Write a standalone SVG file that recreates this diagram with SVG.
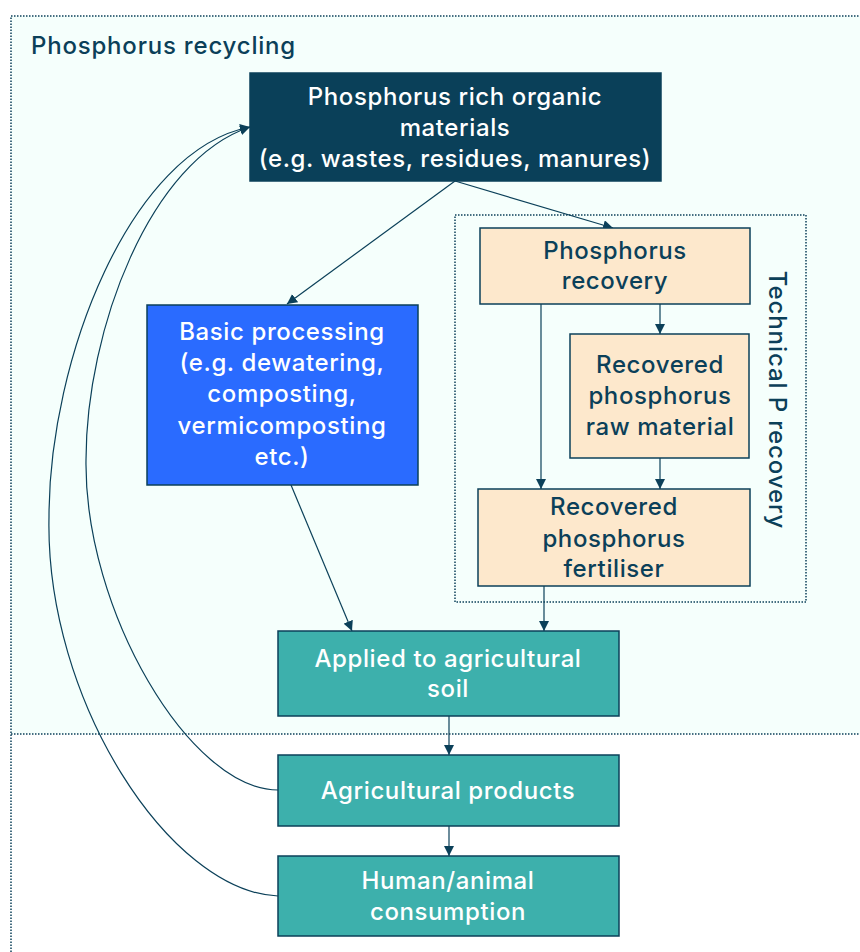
<svg xmlns="http://www.w3.org/2000/svg" width="860" height="952" viewBox="0 0 860 952">
<style>
.t{font-family:Inter,"Noto Sans","Liberation Sans",sans-serif;font-weight:500;font-size:24px;letter-spacing:0.6px;text-anchor:middle}
.w{fill:#ffffff}
.d{fill:#0b4059}
.box{stroke:#0b4059;stroke-width:1.5}
.dot{fill:none;stroke:#0b4059;stroke-width:1.5;stroke-dasharray:1.5 1.5}
.c{fill:none;stroke:#0b4059;stroke-width:1.2}
</style>
<defs>
<marker id="ar" markerUnits="userSpaceOnUse" markerWidth="10" markerHeight="10" refX="10" refY="5" orient="auto">
<path d="M0,0 L10,5 L0,10 z" fill="#0b4059"/>
</marker>
</defs>
<rect width="860" height="952" fill="#ffffff"/>
<g id="region-recycling">
<rect x="11" y="16" width="860" height="718" fill="#f5fffc"/>
<path class="dot" d="M11,952 L11,16 L860,16"/>
<path class="dot" d="M11,734 L860,734"/>
<text x="31" y="54" class="t d" style="text-anchor:start;letter-spacing:0.8px">Phosphorus recycling</text>
</g>
<g id="region-technical">
<rect x="455" y="215" width="351" height="387" fill="#fffcf7" class="dot"/>
<text transform="translate(769,400) rotate(90)" class="t d" style="letter-spacing:0.9px">Technical P recovery</text>
</g>
<g id="connectors">
<path class="c" marker-end="url(#ar)" d="M455,181 L287,304"/>
<path class="c" marker-end="url(#ar)" d="M455,181 L613,228"/>
<path class="c" marker-end="url(#ar)" d="M660,304 L660,334"/>
<path class="c" marker-end="url(#ar)" d="M541,304 L541,489"/>
<path class="c" marker-end="url(#ar)" d="M660,458 L660,489"/>
<path class="c" marker-end="url(#ar)" d="M291,485 L352,631"/>
<path class="c" marker-end="url(#ar)" d="M544,586 L544,631"/>
<path class="c" marker-end="url(#ar)" d="M449,716 L449,755"/>
<path class="c" marker-end="url(#ar)" d="M449,826 L449,856"/>
<path class="c" marker-end="url(#ar)" d="M278,790 C190,790 84,610 86,460 C86,330 150,160 250,127"/>
<path class="c" marker-end="url(#ar)" d="M278,896 C170,892 45,700 49,517 C49,360 130,150 250,127"/>
</g>
<g id="node-organic">
<rect x="250" y="73" width="411" height="108" fill="#0a4059" class="box"/>
<text class="t w"><tspan x="455" y="104.5">Phosphorus rich organic</tspan><tspan x="455" y="135.5">materials</tspan><tspan x="455" y="166.5">(e.g. wastes, residues, manures)</tspan></text>
</g>
<g id="node-basic">
<rect x="147" y="305" width="271" height="180" fill="#2a6bff" class="box"/>
<text class="t w"><tspan x="282" y="340">Basic processing</tspan><tspan x="282" y="371">(e.g. dewatering,</tspan><tspan x="282" y="402">composting,</tspan><tspan x="282" y="434">vermicomposting</tspan><tspan x="282" y="465">etc.)</tspan></text>
</g>
<g id="node-precovery">
<rect x="480" y="228" width="270" height="76" fill="#fde8cc" class="box"/>
<text class="t d"><tspan x="615" y="259">Phosphorus</tspan><tspan x="615" y="289">recovery</tspan></text>
</g>
<g id="node-raw">
<rect x="570" y="334" width="179" height="124" fill="#fde8cc" class="box"/>
<text class="t d"><tspan x="660" y="373">Recovered</tspan><tspan x="660" y="404">phosphorus</tspan><tspan x="660" y="435">raw material</tspan></text>
</g>
<g id="node-fertiliser">
<rect x="478" y="489" width="272" height="97" fill="#fde8cc" class="box"/>
<text class="t d"><tspan x="614" y="515">Recovered</tspan><tspan x="614" y="547">phosphorus</tspan><tspan x="614" y="577">fertiliser</tspan></text>
</g>
<g id="node-applied">
<rect x="278" y="631" width="341" height="85" fill="#3db0ac" class="box"/>
<text class="t w"><tspan x="448" y="667">Applied to agricultural</tspan><tspan x="448" y="697">soil</tspan></text>
</g>
<g id="node-products">
<rect x="278" y="755" width="341" height="71" fill="#3db0ac" class="box"/>
<text class="t w" x="448" y="799">Agricultural products</text>
</g>
<g id="node-consumption">
<rect x="278" y="856" width="341" height="80" fill="#3db0ac" class="box"/>
<text class="t w"><tspan x="448" y="889">Human/animal</tspan><tspan x="448" y="920">consumption</tspan></text>
</g>
</svg>
